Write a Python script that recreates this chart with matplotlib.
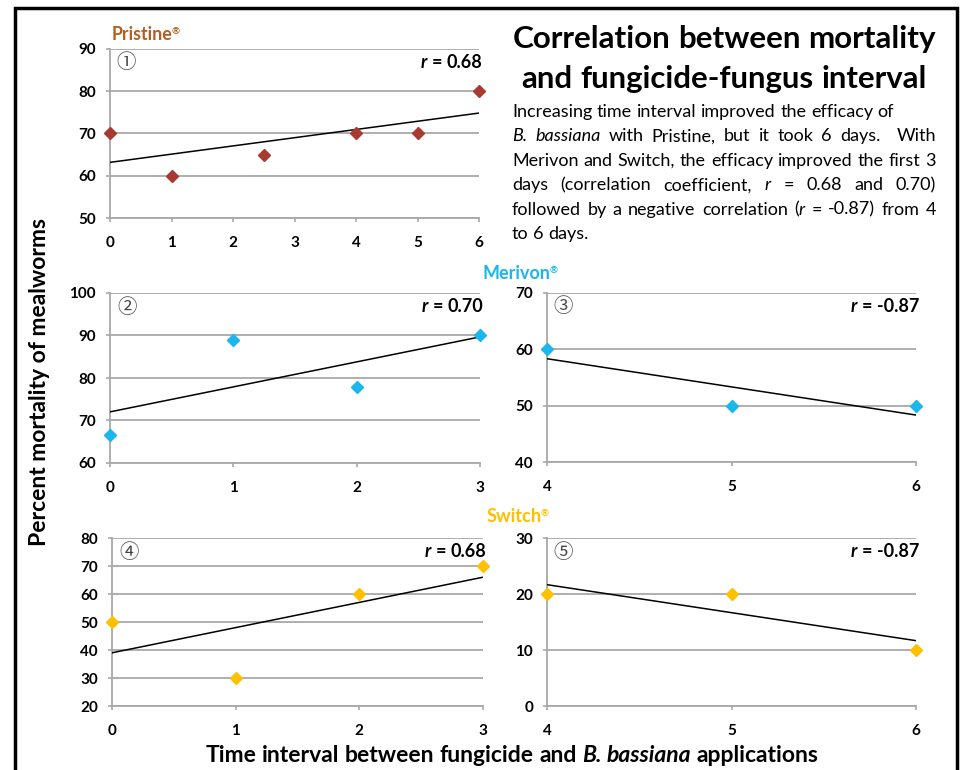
import matplotlib
matplotlib.use("Agg")
import matplotlib.pyplot as plt
import numpy as np
from matplotlib.patches import Rectangle

FONT = "Lato"
CIRCLE_FONT = ["Noto Sans CJK JP", "DejaVu Sans"]

# Dados
pristine_x = [0, 1, 2.5, 4, 5, 6]
pristine_y = [70, 60, 65, 70, 70, 80]
merivon_early_x = [0, 1, 2, 3]
merivon_early_y = [66.7, 88.9, 77.8, 90]
merivon_late_x = [4, 5, 6]
merivon_late_y = [60, 50, 50]
switch_early_x = [0, 1, 2, 3]
switch_early_y = [50, 30, 60, 70]
switch_late_x = [4, 5, 6]
switch_late_y = [20, 20, 10]

r_labels = ["*r* = 0.68", "*r* = 0.70", "*r* = -0.87", "*r* = 0.68", "*r* = -0.87"]
panel_numbers = ["①", "②", "③", "④", "⑤"]
x_limits = [(0, 6), (0, 3), (4, 6), (0, 3), (4, 6)]
y_limits = [(50, 90), (60, 100), (40, 70), (20, 80), (0, 30)]

title_lines = ["Correlation between mortality", "and fungicide-fungus interval"]
body_lines = [
    "Increasing time interval improved the efficacy of",
    "*B. bassiana* with Pristine, but it took 6 days.  With",
    "Merivon and Switch, the efficacy improved the first 3",
    "days (correlation coefficient, *r* = 0.68 and 0.70)",
    "followed by a negative correlation (*r* = -0.87) from 4",
    "to 6 days.",
]
body_justified = [False, True, True, True, True, False]
x_label = "Time interval between fungicide and *B. bassiana* applications"
y_label = "Percent mortality of mealworms"

PRISTINE_LABEL = "#B35F22"
PRISTINE_MARK = "#A83A32"
MERIVON = "#1AB6EE"
SWITCH = "#FFC000"
GRID = "#A8A8A8"

W, H = 961, 770
fig = plt.figure(figsize=(W / 100, H / 100), dpi=100)
renderer = fig.canvas.get_renderer()


def parse(line):
    """Divide uma linha em palavras (texto, itálico, espaços antes)."""
    tokens = []
    italic = False
    word = ""
    spaces = 0
    for ch in line:
        if ch in "* ":
            if word:
                tokens.append((word, italic, spaces if tokens else 0))
                word = ""
                spaces = 0
            if ch == "*":
                italic = not italic
            else:
                spaces += 1
        else:
            word += ch
    if word:
        tokens.append((word, italic, spaces if tokens else 0))
    return tokens


def width_of(s, size, italic, weight):
    t = fig.text(0, 0, s, fontsize=size, family=FONT, fontweight=weight,
                 fontstyle="italic" if italic else "normal")
    w = t.get_window_extent(renderer).width
    t.remove()
    return w


def line_width(line, size, weight):
    tokens = parse(line)
    space = width_of("a a", size, False, weight) - width_of("aa", size, False, weight)
    return (sum(width_of(s, size, it, weight) for s, it, _ in tokens)
            + sum(n for _, _, n in tokens) * space)


def draw_line(line, x, y, size, weight="normal", color="black", ha="left",
              right=None, fit=None):
    """Escreve uma linha com trechos em itálico, em pixels (y de cima para baixo)."""
    tokens = parse(line)
    if fit is not None:
        size = size * fit / line_width(line, size, weight)
    widths = [width_of(s, size, it, weight) for s, it, _ in tokens]
    space = width_of("a a", size, False, weight) - width_of("aa", size, False, weight)
    units = sum(n for _, _, n in tokens)
    total = sum(widths) + units * space
    if right is not None and units:
        space = (right - x - sum(widths)) / units
        total = right - x
    if ha == "center":
        x -= total / 2
    elif ha == "right":
        x -= total
    for (s, it, n), w in zip(tokens, widths):
        x += n * space
        fig.text(x / W, 1 - y / H, s, fontsize=size, family=FONT, fontweight=weight,
                 fontstyle="italic" if it else "normal", color=color,
                 ha="left", va="baseline")
        x += w
    return x


def plot_panel(rect, xs, ys, color, index):
    ax = fig.add_axes([rect[0] / W, 1 - rect[3] / H,
                       (rect[2] - rect[0]) / W, (rect[3] - rect[1]) / H])
    lo, hi = x_limits[index]
    ylo, yhi = y_limits[index]
    ax.set_xlim(lo, hi)
    ax.set_ylim(ylo, yhi)
    ax.set_xticks(np.arange(lo, hi + 1, 1))
    ax.set_yticks(np.arange(ylo, yhi + 1, 10))
    ax.yaxis.grid(True, color=GRID, linewidth=1.3)
    ax.set_axisbelow(True)
    for side in ["top", "right"]:
        ax.spines[side].set_visible(False)
    for side in ["left", "bottom"]:
        ax.spines[side].set_color(GRID)
        ax.spines[side].set_linewidth(1.3)
    ax.tick_params(axis="x", length=3, width=1.2, color=GRID, pad=10)
    ax.tick_params(axis="y", length=3, width=1.2, color=GRID, pad=7)
    for lab in ax.get_xticklabels() + ax.get_yticklabels():
        lab.set_fontfamily(FONT)
        lab.set_fontweight("bold")
        lab.set_fontsize(11)

    # Linha de tendência linear
    slope, intercept = np.polyfit(xs, ys, 1)
    ax.plot([lo, hi], [slope * lo + intercept, slope * hi + intercept],
            color="black", linewidth=1.1, zorder=3)
    ax.plot(xs, ys, linestyle="none", marker="D", markersize=6.5,
            color=color, clip_on=False, zorder=4)

    ax.text(0.045, 1 - 14 / (rect[3] - rect[1]), panel_numbers[index],
            transform=ax.transAxes, family=CIRCLE_FONT, fontsize=14,
            ha="center", va="center", color="#444444")
    draw_line(r_labels[index], rect[2] + 3, rect[1] + 19, 13, weight="bold", ha="right")
    return ax


# Moldura
fig.patches.append(Rectangle((15 / W, -0.05), (957 - 15) / W, 1.05 - 8 / H,
                             transform=fig.transFigure, fill=False,
                             edgecolor="black", linewidth=2.5))

plot_panel((110, 49, 479, 218), pristine_x, pristine_y, PRISTINE_MARK, 0)
plot_panel((110, 293, 480, 463), merivon_early_x, merivon_early_y, MERIVON, 1)
plot_panel((547, 293, 916, 462), merivon_late_x, merivon_late_y, MERIVON, 2)
plot_panel((112, 538, 483, 706), switch_early_x, switch_early_y, SWITCH, 3)
plot_panel((547, 538, 916, 706), switch_late_x, switch_late_y, SWITCH, 4)

# Rótulos das marcas
for name, x, y, w, color in [("Pristine", 112, 40, 60, PRISTINE_LABEL),
                             ("Merivon", 483, 279, 67, MERIVON),
                             ("Switch", 487, 522, 55, SWITCH)]:
    end = draw_line(name, x, y, 12, weight="bold", color=color, fit=w)
    fig.text((end - 1.5) / W, 1 - (y - 6) / H, "®", fontsize=7, family=FONT,
             fontweight="bold", color=color, ha="left", va="baseline")

# Título e texto explicativo
draw_line(title_lines[0], 724, 48, 20, weight="bold", ha="center", fit=423)
draw_line(title_lines[1], 724, 88, 20, weight="bold", ha="center", fit=405)

# tamanho do corpo obtido a partir da primeira linha
body_size = 12 * 381 / line_width(body_lines[0], 12, "normal")
for i, (line, just) in enumerate(zip(body_lines, body_justified)):
    draw_line(line, 512, 117 + i * 24.4, body_size, right=936 if just else None)

# Rótulos dos eixos
draw_line(x_label, 512, 762, 15, weight="bold", ha="center", fit=615)
fig.text(40 / W, 1 - 382 / H, y_label, rotation=90, fontsize=16.5, family=FONT,
         fontweight="bold", ha="center", va="center")

plt.savefig("out.png", dpi=100)
